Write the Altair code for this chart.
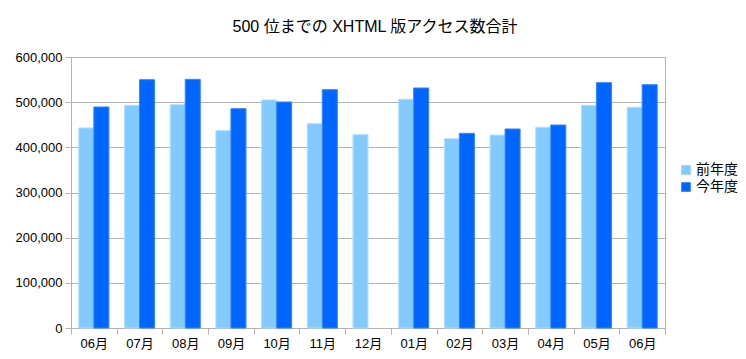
import altair as alt
import pandas as pd

months = ["06月", "07月", "08月", "09月", "10月", "11月", "12月",
          "01月", "02月", "03月", "04月", "05月", "06月"]
prev_year = [443000, 493000, 494500, 437000, 504800, 452400, 428000,
             506300, 419200, 427300, 444300, 493000, 488600]
this_year = [489300, 549800, 550500, 485600, 500400, 527700, None,
             531400, 431000, 440600, 449400, 543200, 538700]
series = ["前年度", "今年度"]
colors = ["#83caff", "#0066ff"]
strokes = ["#b4dfff", "#3385ff"]

rows = []
for i, m in enumerate(months):
    rows.append({"idx": i, "series": series[0], "value": prev_year[i]})
    if this_year[i] is not None:
        rows.append({"idx": i, "series": series[1], "value": this_year[i]})
df = pd.DataFrame(rows)

label_expr = "[" + ",".join("'%s'" % m for m in months) + "][datum.value]"
FONT = "Liberation Sans, Noto Sans CJK JP"

chart = alt.Chart(df).mark_bar(strokeWidth=1).encode(
    x=alt.X("idx:O", title=None,
            scale=alt.Scale(paddingInner=0, paddingOuter=0),
            axis=alt.Axis(labelExpr=label_expr, labelAngle=0, tickBand="extent",
                          tickSize=6, tickColor="#b3b3b3", domainColor="#b3b3b3",
                          labelFontSize=13, labelColor="#000000", labelPadding=3,
                          grid=False)),
    xOffset=alt.XOffset("series:N", sort=series,
                        scale=alt.Scale(domain=series, paddingInner=0, paddingOuter=0.52)),
    y=alt.Y("value:Q", title=None,
            scale=alt.Scale(domain=[0, 600000]),
            axis=alt.Axis(values=list(range(0, 600001, 100000)), format=",d",
                          tickSize=6, tickColor="#b3b3b3", domainColor="#b3b3b3",
                          gridColor="#b3b3b3", labelFontSize=13, labelColor="#000000",
                          labelPadding=3)),
    color=alt.Color("series:N", sort=series,
                    scale=alt.Scale(domain=series, range=colors),
                    legend=alt.Legend(title=None, orient="none", legendX=608, legendY=106,
                                      symbolType="square", symbolSize=90,
                                      symbolStrokeWidth=0, labelFontSize=14,
                                      labelColor="#000000", rowPadding=3, labelOffset=3)),
    stroke=alt.Stroke("series:N", sort=series,
                      scale=alt.Scale(domain=series, range=strokes), legend=None),
).properties(
    width=594, height=271,
    title=alt.TitleParams("500 位までの XHTML 版アクセス数合計", fontSize=16,
                          fontWeight="normal", color="#000000", anchor="middle",
                          dx=7, offset=16),
    autosize=alt.AutoSizeParams(type="none"),
    padding={"left": 63, "top": 49, "right": 73, "bottom": 23},
).configure(font=FONT).configure_view(stroke="#b3b3b3", strokeWidth=1)

chart.save("out.html", embed_options={"renderer": "svg", "actions": False})
